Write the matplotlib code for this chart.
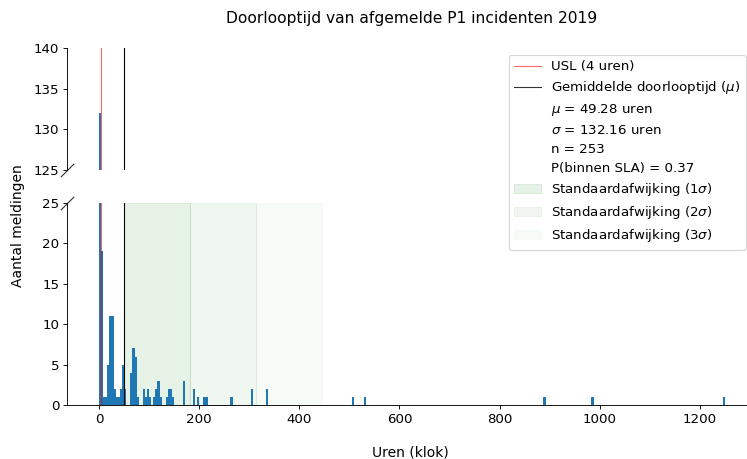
import numpy as np
import matplotlib
matplotlib.use("Agg")
import matplotlib.pyplot as plt
from matplotlib.lines import Line2D
from matplotlib.patches import Patch

# histogram (bin width ~4.17 h, 300 bins from 0 to 1250 h)
bin_index = [0, 1, 2, 3, 4, 5, 6, 7, 8, 9, 10, 11, 12,
             15, 16, 17, 18, 21, 22, 23, 24, 26, 27, 28, 29,
             32, 33, 34, 35, 40, 45, 47, 50, 51, 63, 73, 80,
             121, 127, 213, 236, 299]
counts = [132, 19, 1, 1, 5, 11, 11, 2, 1, 1, 2, 5, 2,
          4, 7, 6, 1, 2, 1, 2, 1, 1, 2, 3, 1,
          1, 2, 2, 1, 3, 2, 1, 1, 1, 1, 2, 2,
          1, 1, 1, 1, 1]

usl = 4
mu = 49.28
sigma = 132.16
n = 253
p_sla = 0.37

n_bins = 300
max_hours = 1250
edges = np.linspace(0, max_hours, n_bins + 1)
bin_w = edges[1] - edges[0]
centers = (np.array(bin_index) + 0.5) * bin_w

W, H = 747, 459
fig = plt.figure(figsize=(W / 80, H / 80), dpi=80)

left = 67 / W
right = 746 / W
ax_top = fig.add_axes([left, 1 - 170 / H, right - left, (170 - 48) / H])
ax_bot = fig.add_axes([left, 1 - 405 / H, right - left, (405 - 203) / H])

for ax in (ax_top, ax_bot):
    ax.hist(centers, bins=edges, weights=counts, color="#1f77b4")
    ax.axvline(usl, color="red", alpha=0.6, lw=1)
    ax.axvline(mu, color="black", lw=1)
    ax.set_xlim(-64, 1292)
    ax.spines["top"].set_visible(False)
    ax.spines["right"].set_visible(False)
    ax.tick_params(labelsize=12)

span_alpha = [0.1, 0.06, 0.03]
for k in range(3):
    ax_bot.axvspan(mu + k * sigma, mu + (k + 1) * sigma, color="green",
                   alpha=span_alpha[k], zorder=0)

ax_top.set_ylim(125, 140)
ax_top.set_yticks([125, 130, 135, 140])
ax_top.spines["bottom"].set_visible(False)
ax_top.set_xticks([])

ax_bot.set_ylim(0, 25)
ax_bot.set_yticks([0, 5, 10, 15, 20, 25])
ax_bot.set_xticks([0, 200, 400, 600, 800, 1000, 1200])

# break marks
kw = dict(marker=[(-1, -1), (1, 1)], markersize=12, linestyle="none",
          color="#333333", mec="#333333", mew=1, clip_on=False)
ax_top.plot([0], [0], transform=ax_top.transAxes, **kw)
ax_bot.plot([0], [1], transform=ax_bot.transAxes, **kw)

handles = [
    Line2D([], [], color="red", alpha=0.6, lw=1),
    Line2D([], [], color="black", alpha=0.8, lw=1),
    Line2D([], [], linestyle="none"),
    Line2D([], [], linestyle="none"),
    Line2D([], [], linestyle="none"),
    Line2D([], [], linestyle="none"),
    Patch(color="green", alpha=span_alpha[0]),
    Patch(color="green", alpha=span_alpha[1]),
    Patch(color="green", alpha=span_alpha[2]),
]
labels = [
    "USL (4 uren)",
    r"Gemiddelde doorlooptijd ($\mu$)",
    r"$\mu$ = %.2f uren" % mu,
    r"$\sigma$ = %.2f uren" % sigma,
    "n = %d" % n,
    "P(binnen SLA) = %.2f" % p_sla,
    r"Standaardafwijking (1$\sigma$)",
    r"Standaardafwijking (2$\sigma$)",
    r"Standaardafwijking (3$\sigma$)",
]
fig.legend(handles, labels, loc="upper right", fontsize=12,
           labelspacing=0.45, borderaxespad=0,
           bbox_to_anchor=(746 / W, 1 - 55 / H))

fig.text(0.551, 1 - 18 / H, "Doorlooptijd van afgemelde P1 incidenten 2019",
         ha="center", va="center", fontsize=14)
fig.text(18 / W, 1 - 226 / H, "Aantal meldingen", rotation=90,
         ha="center", va="center", fontsize=12.5)
fig.text(0.549, 1 - 452 / H, "Uren (klok)", ha="center", va="center", fontsize=12.5)

fig.savefig("out.png", dpi=80)
